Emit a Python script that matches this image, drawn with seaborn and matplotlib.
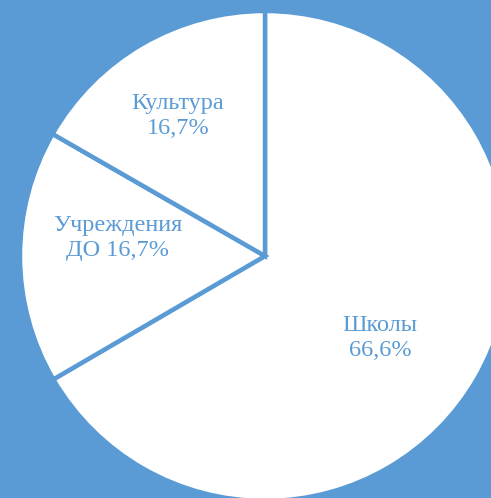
import matplotlib
matplotlib.use("Agg")
import matplotlib.pyplot as plt
import seaborn as sns

# data
categories = ["Школы", "Учреждения\nДО 16,7%", "Культура"]
shares = [66.6, 16.7, 16.7]
pct_labels = ["66,6%", None, "16,7%"]

BLUE = "#5B9BD5"
W, H, DPI = 491, 498, 100
CX, CY, R = 265, 256, 245  # pie centre / radius in pixels

sns.set_style("white")
plt.rcParams["font.family"] = ["Liberation Serif", "DejaVu Serif"]

fig = plt.figure(figsize=(W / DPI, H / DPI), dpi=DPI, facecolor=BLUE)
ax = fig.add_axes([0, 0, 1, 1])
ax.set_facecolor(BLUE)

labels = [c if p is None else f"{c}\n{p}" for c, p in zip(categories, pct_labels)]
wedges, texts = ax.pie(
    shares,
    labels=labels,
    startangle=90,
    counterclock=False,
    colors=["white"] * len(shares),
    wedgeprops={"edgecolor": BLUE, "linewidth": 3.2},
    labeldistance=0.62,
    textprops={"color": BLUE, "fontsize": 17.5, "linespacing": 1.22},
)

# label positions tuned to the reference (in pie-radius units)
label_xy = [(0.469, -0.335), (-0.600, 0.074), (-0.355, 0.572)]
for t, xy in zip(texts, label_xy):
    t.set_position(xy)
    t.set_horizontalalignment("center")
    t.set_verticalalignment("center")

ax.set_aspect("auto")
ax.set_xlim(-CX / R, (W - CX) / R)
ax.set_ylim(-(H - CY) / R, CY / R)
ax.axis("off")

fig.savefig("out.png", dpi=DPI, facecolor=BLUE)
